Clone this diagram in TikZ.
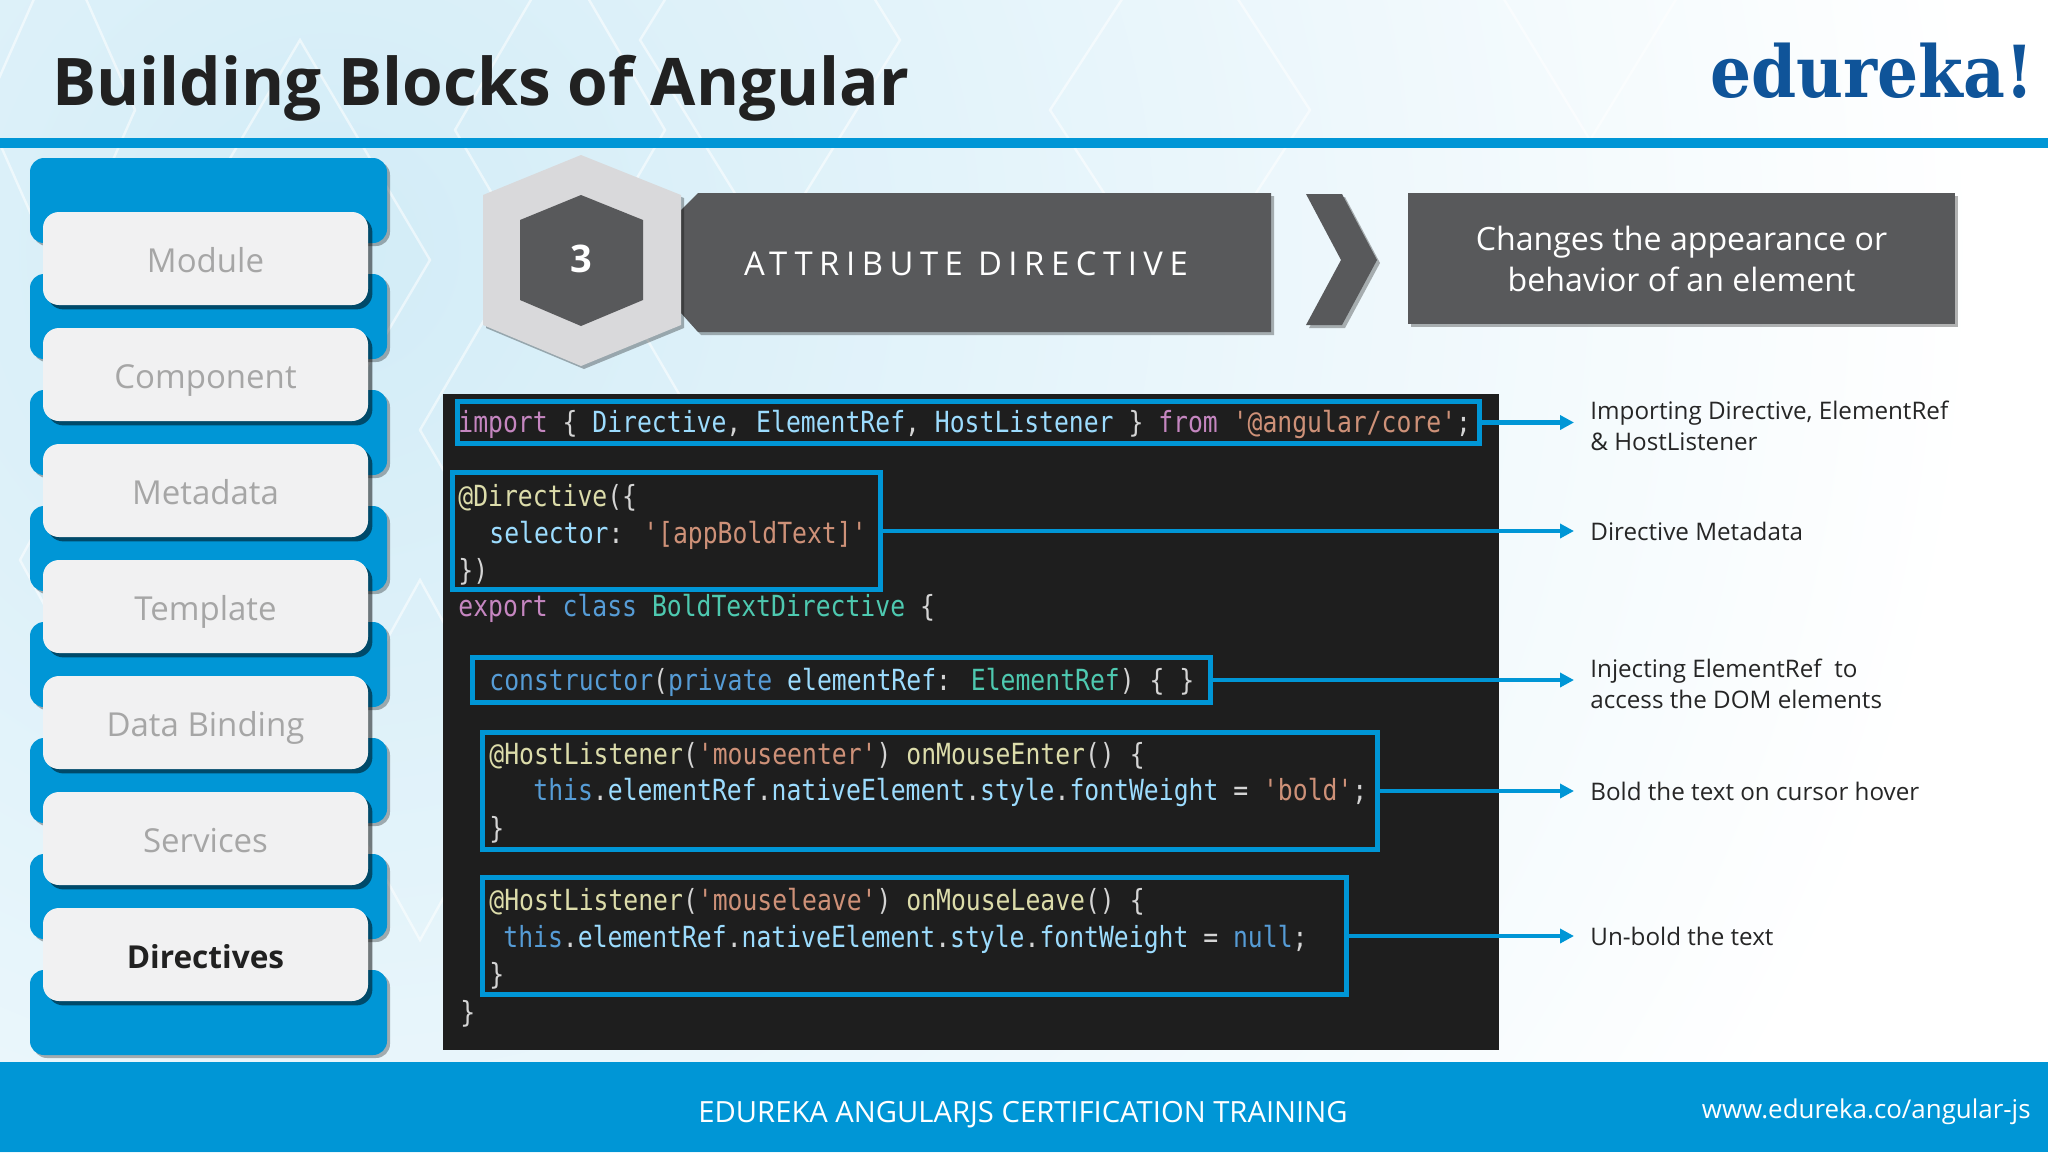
\documentclass[tikz,border=0pt]{standalone}
\usepackage{fontspec}
\setmainfont{Open Sans}
\newfontfamily\codefont[FakeStretch=0.85]{DejaVu Sans Mono}
\newfontfamily\logofont[FakeStretch=0.9]{DejaVu Serif}
\usetikzlibrary{arrows.meta,shadows}
\definecolor{edublue}{HTML}{0096D6}
\definecolor{slate}{HTML}{58595B}
\definecolor{hexgrey}{HTML}{D9D9DB}
\definecolor{btnfill}{HTML}{F1F1F2}
\definecolor{bgblue}{HTML}{D2ECF7}
\definecolor{logoblue}{HTML}{0F5499}
\definecolor{panel}{HTML}{1E1E1E}
\definecolor{cpink}{HTML}{C586C0}
\definecolor{cwhite}{HTML}{D4D4D4}
\definecolor{cvar}{HTML}{9CDCFE}
\definecolor{cstr}{HTML}{CE9178}
\definecolor{cfun}{HTML}{DCDCAA}
\definecolor{ckey}{HTML}{569CD6}
\definecolor{ctype}{HTML}{4EC9B0}
\newcommand{\kw}[1]{\textcolor{cpink}{#1}}
\newcommand{\va}[1]{\textcolor{cvar}{#1}}
\newcommand{\st}[1]{\textcolor{cstr}{#1}}
\newcommand{\fn}[1]{\textcolor{cfun}{#1}}
\newcommand{\ke}[1]{\textcolor{ckey}{#1}}
\newcommand{\ty}[1]{\textcolor{ctype}{#1}}
\tikzset{
  softshadow/.style={drop shadow={shadow xshift=1.5pt,shadow yshift=-1.5pt,opacity=.3,fill=black}},
  bluetab/.style={fill=edublue,rounded corners=7pt,minimum width=178.5pt,minimum height=42.5pt,inner sep=0pt,softshadow},
  sidebtn/.style={fill=btnfill,rounded corners=8pt,minimum width=162.5pt,minimum height=46.5pt,inner sep=0pt,
    text height=17.5pt,text depth=4pt,font=\fontsize{16.5}{20}\selectfont,text=black!35,drop shadow={shadow xshift=2.2pt,shadow yshift=-2.2pt,opacity=.5,fill=black}},
  codebox/.style={draw=edublue,line width=2.5pt,inner sep=0pt},
  codeline/.style={anchor=base west,inner sep=0pt,text=cwhite,font=\codefont\fontsize{14.55}{16}\selectfont},
  note/.style={anchor=west,inner sep=0pt,inner xsep=8pt,align=left,text=black!85,font=\fontsize{12.1}{15.5}\selectfont},
  pointer/.style={edublue,line width=2.4pt,-{Triangle[length=7pt,width=7pt]}}
}
\begin{document}
\begin{tikzpicture}[x=0.5pt,y=-0.5pt]
  \useasboundingbox (0,0) rectangle (2048,1152);
  % background
  \begin{scope}
    \clip (0,0) rectangle (2048,1152);
    \fill[white] (0,0) rectangle (2048,1152);
    \shade[inner color=bgblue,outer color=white] (330,250) circle (1650);
    \foreach \cx/\cy/\w/\h in {60/110/75/170,300/260/130/220,560/130/105/180,770/40/130/210,1180/110/130/200,560/430/140/240,150/560/130/240,420/760/100/180,1590/-40/110/180}
      \draw[white,opacity=.55,line width=1.2pt] (\cx-\w,\cy) -- (\cx,\cy-\h) -- (\cx+\w,\cy) -- (\cx,\cy+\h) -- cycle;
  \end{scope}
  % header and footer
  \fill[edublue] (0,138) rectangle (2048,148);
  \fill[edublue] (0,1062) rectangle (2048,1152);
  \node[anchor=base west,inner sep=0pt,text=black!87,font=\fontsize{32.85}{36}\selectfont\bfseries] (title) at (52,105) {Building Blocks of Angular};
  \node[anchor=base east,inner sep=0pt,text=logoblue,font=\logofont\fontsize{35.9}{40}\selectfont\bfseries] (logo) at (2034,97) {edureka!};
  \node[inner sep=0pt,text=white,font=\fontsize{14.6}{16}\selectfont] (course) at (1023,1115) {EDUREKA ANGULARJS CERTIFICATION TRAINING};
  \node[anchor=east,inner sep=0pt,text=white,font=\fontsize{12.95}{16}\selectfont] (site) at (2031,1112) {www.edureka.co/angular-js};
  % side menu
  \foreach \i in {0,...,7}
    \node[bluetab] (tab\i) at (208.5,{200.5+116*\i}) {};
  \foreach \i/\t in {0/Module,1/Component,2/Metadata,3/Template,4/Data Binding,5/Services}
    \node[sidebtn] (btn\i) at (205.5,{258.5+116*\i}) {\t};
  \node[sidebtn,text=black!87,font=\fontsize{15.8}{20}\selectfont\bfseries] (btn6) at (205.5,954.5) {Directives};
  % heading row
  \fill[slate,softshadow] (698,193) -- (1271,193) -- (1271,332) -- (698,332) -- (681,313) -- (681,210) -- cycle;
  \fill[hexgrey,softshadow] (581,155) -- (681,195) -- (681,325) -- (581,366) -- (483,325) -- (483,195) -- cycle;
  \fill[slate] (581,195) -- (643,220) -- (643,300) -- (581,326) -- (520,300) -- (520,220) -- cycle;
  \node[inner sep=0pt,text=white,font=\fontsize{19}{20}\selectfont\bfseries] (num) at (581,259) {3};
  \node[inner sep=0pt,text=white,font=\addfontfeature{LetterSpace=20}\fontsize{16.4}{20}\selectfont] (attr) at (966,264) {ATTRIBUTE DIRECTIVE};
  \fill[slate,softshadow] (1306,194) -- (1342,194) -- (1377,260) -- (1342,325) -- (1306,325) -- (1341,260) -- cycle;
  \node[fill=slate,softshadow,minimum width=273.5pt,minimum height=65.5pt,inner sep=0pt,align=center,text=white,font=\fontsize{16.05}{20}\selectfont] (what) at (1681.5,258.5) {Changes the appearance or\\[.5pt]behavior of an element};
  % code panel
  \fill[panel] (443,394) rectangle (1499,1050);
  \node[codebox,minimum width=511pt,minimum height=21pt] (boxa) at (968.5,422.5) {};
  \node[codebox,minimum width=214pt,minimum height=58.5pt] (boxb) at (666.5,531) {};
  \node[codebox,minimum width=369pt,minimum height=22.5pt] (boxc) at (841.5,680) {};
  \node[codebox,minimum width=447.5pt,minimum height=58.5pt] (boxd) at (930,791) {};
  \node[codebox,minimum width=432pt,minimum height=58.5pt] (boxe) at (914.5,936) {};
  \node[codeline] (l1) at (458,432) {\kw{import} \{ \va{Directive}, \va{ElementRef}, \va{HostListener} \} \kw{from} \st{'@angular/core'};};
  \node[codeline] (l2) at (458,506) {\fn{@Directive}(\{};
  \node[codeline] (l3) at (489,543) {\va{selector}: \st{'[appBoldText]'}};
  \node[codeline] (l4) at (458,580) {\})};
  \node[codeline] (l5) at (458,616) {\kw{export} \ke{class} \ty{BoldTextDirective} \{};
  \node[codeline] (l6) at (489,690) {\ke{constructor}(\ke{private} \va{elementRef}: \ty{ElementRef}) \{ \}};
  \node[codeline] (l7) at (489,764) {\fn{@HostListener}(\st{'mouseenter'}) \fn{onMouseEnter}() \{};
  \node[codeline] (l8) at (533,800) {\ke{this}.\va{elementRef}.\va{nativeElement}.\va{style}.\va{fontWeight} = \st{'bold'};};
  \node[codeline] (l9) at (489,838) {\}};
  \node[codeline] (l10) at (489,910) {\fn{@HostListener}(\st{'mouseleave'}) \fn{onMouseLeave}() \{};
  \node[codeline] (l11) at (503,947) {\ke{this}.\va{elementRef}.\va{nativeElement}.\va{style}.\va{fontWeight} = \ke{null};};
  \node[codeline] (l12) at (489,984) {\}};
  \node[codeline] (l13) at (460,1022) {\}};
  % notes on the right
  \node[note] (nota) at (1574,426) {Importing Directive, ElementRef\\\& HostListener};
  \node[note] (notb) at (1574,531) {Directive Metadata};
  \node[note] (notc) at (1574,684) {Injecting ElementRef\ \ to\\access the DOM elements};
  \node[note] (notd) at (1574,791) {Bold the text on cursor hover};
  \node[note] (note) at (1574,936) {Un-bold the text};
  \draw[pointer] (boxa.east) -- (boxa.east -| nota.west);
  \draw[pointer] (boxb.east) -- (boxb.east -| notb.west);
  \draw[pointer] (boxc.east) -- (boxc.east -| notc.west);
  \draw[pointer] (boxd.east) -- (boxd.east -| notd.west);
  \draw[pointer] (boxe.east) -- (boxe.east -| note.west);
\end{tikzpicture}
\end{document}
